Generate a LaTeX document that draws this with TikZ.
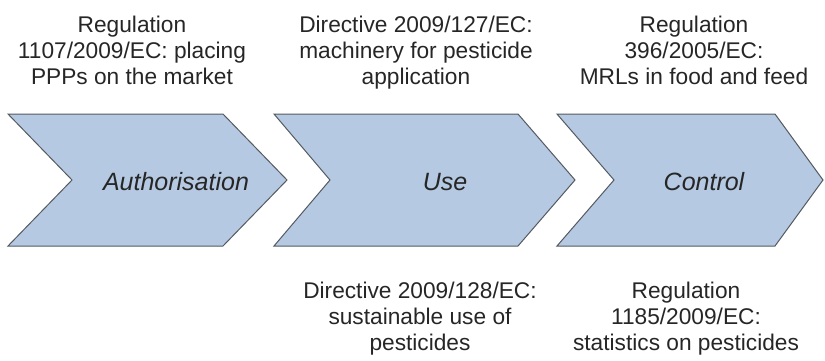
\documentclass[tikz,border=0pt]{standalone}
\usepackage{fontspec}
\setmainfont{Liberation Sans}
\definecolor{chevfill}{HTML}{B5C9E2}
\definecolor{chevline}{HTML}{555A60}
\definecolor{txt}{HTML}{262626}
\begin{document}
\begin{tikzpicture}[x=1pt,y=-1pt,
  chev/.style={fill=chevfill,draw=chevline,line width=1pt,line join=miter},
  lab/.style={align=center,inner sep=0pt,text=txt,font=\fontsize{22.7}{26}\selectfont,anchor=base},
  stage/.style={inner sep=0pt,text=txt,font=\fontsize{25}{26}\selectfont\itshape,anchor=base}]
\useasboundingbox (0,0) rectangle (825,360);
% chevrons
\draw[chev] (8,114) -- (223,114) -- (287,180) -- (223,246) -- (8,246) -- (72,180) -- cycle;
\draw[chev] (274,114) -- (518,114) -- (575,180) -- (518,246) -- (274,246) -- (330,180) -- cycle;
\draw[chev] (557,114) -- (775,114) -- (823,180) -- (775,246) -- (557,246) -- (614,180) -- cycle;
% stage labels
\node[stage] (auth) at (176,190) {Authorisation};
\node[stage] (use) at (445,190) {Use};
\node[stage] (ctrl) at (704,190) {Control};
% top labels
\node[lab] (t1) at (132,84) {Regulation\\1107/2009/EC: placing\\PPPs on the market};
\node[lab] (t2) at (416,84) {Directive 2009/127/EC:\\machinery for pesticide\\application};
\node[lab] (t3) at (694,84) {Regulation\\396/2005/EC:\\MRLs in food and feed};
% bottom labels
\node[lab] (b1) at (420,350) {Directive 2009/128/EC:\\sustainable use of\\pesticides};
\node[lab] (b2) at (686,350) {Regulation\\1185/2009/EC:\\statistics on pesticides};
\end{tikzpicture}
\end{document}
